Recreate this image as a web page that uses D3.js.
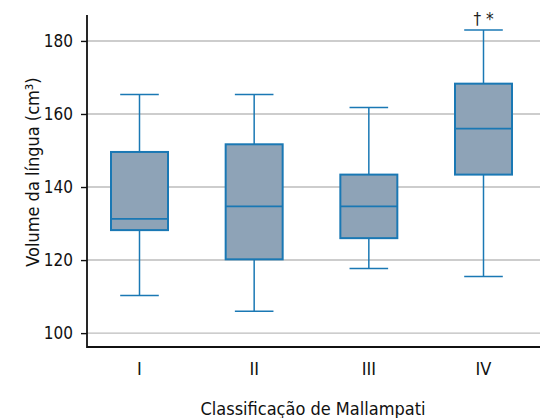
<!DOCTYPE html>
<html>
<head>
<meta charset="utf-8">
<script src="https://cdn.jsdelivr.net/npm/d3@7/dist/d3.min.js"></script>
<style>
  html, body { margin: 0; padding: 0; background: #fff; }
  svg { display: block; font-family: "DejaVu Sans Condensed", "DejaVu Sans", sans-serif; font-stretch: condensed; }
</style>
</head>
<body>
<div id="chart"></div>
<script>
const categories = ['I', 'II', 'III', 'IV']
const whiskerLow = [110.3, 106.0, 117.7, 115.5]
const q1 = [128.2, 120.2, 126.0, 143.4]
const medians = [131.3, 134.7, 134.7, 156.0]
const q3 = [149.6, 151.7, 143.4, 168.3]
const whiskerHigh = [165.3, 165.3, 161.8, 183.0]
const yTicks = [100, 120, 140, 160, 180]
const annotations = ['', '', '', '† *']

const width = 540
const height = 418
const plotLeft = 87
const plotRight = 540
const plotTop = 15
const plotBottom = 347

const BOX_FILL = '#8ea3b7'
const BOX_STROKE = '#1a78b4'
const FONT = '"DejaVu Sans Condensed", "DejaVu Sans", sans-serif'

const boxes = categories.map((c, i) => ({
  cat: c,
  low: whiskerLow[i],
  q1: q1[i],
  med: medians[i],
  q3: q3[i],
  high: whiskerHigh[i],
  note: annotations[i]
}))

const svg = d3.select('#chart')
  .append('svg')
  .attr('width', width)
  .attr('height', height)

const x = d3.scalePoint()
  .domain(categories)
  .range([139.5, 483.5])

const y = d3.scaleLinear()
  .domain([96.2, 187.1])
  .range([plotBottom, plotTop])

// gridlines
svg.append('g')
  .selectAll('line')
  .data(yTicks)
  .join('line')
  .attr('x1', plotLeft)
  .attr('x2', plotRight)
  .attr('y1', d => y(d))
  .attr('y2', d => y(d))
  .attr('stroke', '#bdbdbd')
  .attr('stroke-width', 1.4)

// y axis
const yAxis = svg.append('g')
  .attr('transform', `translate(${plotLeft},0)`)
  .call(d3.axisLeft(y).tickValues(yTicks).tickSize(6).tickPadding(8))
yAxis.select('.domain').remove()
yAxis.selectAll('.tick line').attr('stroke', '#111').attr('stroke-width', 1.4)
yAxis.selectAll('.tick text')
  .attr('fill', '#111')
  .attr('font-size', 17)
  .attr('font-family', FONT)

// axis lines
svg.append('path')
  .attr('d', d3.line()([[plotLeft, plotTop], [plotLeft, plotBottom], [plotRight, plotBottom]]))
  .attr('fill', 'none')
  .attr('stroke', '#111')
  .attr('stroke-width', 1.8)

// x tick labels
svg.append('g')
  .selectAll('text')
  .data(categories)
  .join('text')
  .attr('x', d => x(d))
  .attr('y', 375)
  .attr('text-anchor', 'middle')
  .attr('font-size', 18)
  .attr('fill', '#111')
  .text(d => d)

const boxHalf = 28.5
const capHalf = 19.3

const g = svg.append('g')
  .selectAll('g')
  .data(boxes)
  .join('g')
  .attr('transform', d => `translate(${x(d.cat)},0)`)

// whiskers
g.append('line')
  .attr('y1', d => y(d.low))
  .attr('y2', d => y(d.q1))
  .attr('stroke', BOX_STROKE)
  .attr('stroke-width', 1.5)
g.append('line')
  .attr('y1', d => y(d.q3))
  .attr('y2', d => y(d.high))
  .attr('stroke', BOX_STROKE)
  .attr('stroke-width', 1.5)

// caps
g.selectAll('line.cap')
  .data(d => [d.low, d.high])
  .join('line')
  .attr('class', 'cap')
  .attr('x1', -capHalf)
  .attr('x2', capHalf)
  .attr('y1', v => y(v))
  .attr('y2', v => y(v))
  .attr('stroke', BOX_STROKE)
  .attr('stroke-width', 1.5)

// box
g.append('rect')
  .attr('x', -boxHalf)
  .attr('width', boxHalf * 2)
  .attr('y', d => y(d.q3))
  .attr('height', d => y(d.q1) - y(d.q3))
  .attr('fill', BOX_FILL)
  .attr('stroke', BOX_STROKE)
  .attr('stroke-width', 2)

// median
g.append('line')
  .attr('x1', -boxHalf)
  .attr('x2', boxHalf)
  .attr('y1', d => y(d.med))
  .attr('y2', d => y(d.med))
  .attr('stroke', BOX_STROKE)
  .attr('stroke-width', 1.8)

// significance markers
g.append('text')
  .attr('x', 0)
  .attr('y', d => y(d.high) - 5)
  .attr('text-anchor', 'middle')
  .attr('font-size', 17)
  .attr('fill', '#222')
  .text(d => d.note)

// axis titles
svg.append('text')
  .attr('x', 313)
  .attr('y', 415)
  .attr('text-anchor', 'middle')
  .attr('font-size', 18)
  .attr('fill', '#111')
  .text('Classificação de Mallampati')

svg.append('text')
  .attr('transform', 'translate(39,172) rotate(-90)')
  .attr('text-anchor', 'middle')
  .attr('font-size', 18)
  .attr('fill', '#111')
  .text('Volume da língua (cm³)')
</script>
</body>
</html>
